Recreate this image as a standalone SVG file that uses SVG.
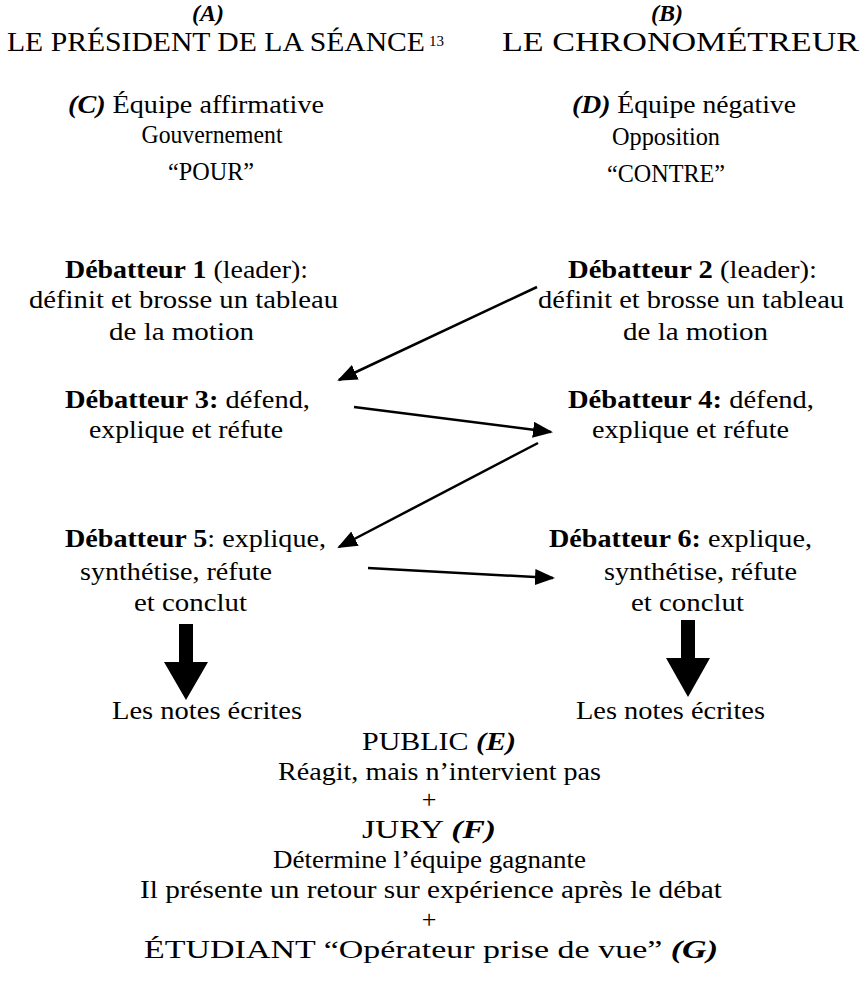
<svg xmlns="http://www.w3.org/2000/svg" width="861" height="983" viewBox="0 0 861 983">
<style>
text{font-family:"Liberation Serif","Times New Roman",serif;font-size:26px;fill:#000}
.c{text-anchor:middle}
.b{font-weight:bold}
.l{font-weight:bold;font-style:italic}
.t{font-size:28px}
.ln{stroke:#000;stroke-width:2.5;fill:none}
</style>
<defs>
<marker id="ah2" viewBox="0 0 20 16" refX="18" refY="8" markerWidth="20" markerHeight="16" markerUnits="userSpaceOnUse" orient="auto">
<path d="M0,0 L20,8 L0,16 Z" fill="#000"/>
</marker>
</defs>
<rect width="861" height="983" fill="#fff"/>
<g id="A">
<text class="c l" x="208" y="21" style="font-size:24px">(A)</text>
<text class="t" x="7" y="51" textLength="418" lengthAdjust="spacingAndGlyphs">LE PRÉSIDENT DE LA SÉANCE</text>
<text x="429" y="46" style="font-size:15px">13</text>
</g>
<g id="B">
<text class="c l" x="667" y="21" style="font-size:24px">(B)</text>
<text class="t" x="502" y="51" textLength="357" lengthAdjust="spacingAndGlyphs">LE CHRONOMÉTREUR</text>
</g>
<g id="C">
<text x="68" y="113" textLength="256" lengthAdjust="spacingAndGlyphs"><tspan class="l">(C)</tspan> Équipe affirmative</text>
<text class="c" x="212" y="143" textLength="141" lengthAdjust="spacingAndGlyphs">Gouvernement</text>
<text class="c" x="211" y="180" textLength="86" lengthAdjust="spacingAndGlyphs">“POUR”</text>
</g>
<g id="D">
<text x="572" y="113" textLength="224" lengthAdjust="spacingAndGlyphs"><tspan class="l">(D)</tspan> Équipe négative</text>
<text class="c" x="666" y="145" textLength="108" lengthAdjust="spacingAndGlyphs">Opposition</text>
<text class="c" x="666" y="182" textLength="118" lengthAdjust="spacingAndGlyphs">“CONTRE”</text>
</g>
<g id="deb1">
<text x="65" y="278" textLength="243" lengthAdjust="spacingAndGlyphs"><tspan class="b">Débatteur 1</tspan> (leader):</text>
<text x="29" y="308" textLength="309" lengthAdjust="spacingAndGlyphs">définit et brosse un tableau</text>
<text x="109" y="340" textLength="145" lengthAdjust="spacingAndGlyphs">de la motion</text>
</g>
<g id="deb2">
<text x="568" y="278" textLength="249" lengthAdjust="spacingAndGlyphs"><tspan class="b">Débatteur 2</tspan> (leader):</text>
<text x="538" y="308" textLength="306" lengthAdjust="spacingAndGlyphs">définit et brosse un tableau</text>
<text x="623" y="340" textLength="145" lengthAdjust="spacingAndGlyphs">de la motion</text>
</g>
<g id="deb3">
<text x="65" y="408" textLength="245" lengthAdjust="spacingAndGlyphs"><tspan class="b">Débatteur 3:</tspan> défend,</text>
<text x="89" y="438" textLength="194" lengthAdjust="spacingAndGlyphs">explique et réfute</text>
</g>
<g id="deb4">
<text x="568" y="408" textLength="246" lengthAdjust="spacingAndGlyphs"><tspan class="b">Débatteur 4:</tspan> défend,</text>
<text x="592" y="438" textLength="197" lengthAdjust="spacingAndGlyphs">explique et réfute</text>
</g>
<g id="deb5">
<text x="65" y="547" textLength="261" lengthAdjust="spacingAndGlyphs"><tspan class="b">Débatteur 5</tspan>: explique,</text>
<text x="80" y="580" textLength="192" lengthAdjust="spacingAndGlyphs">synthétise, réfute</text>
<text x="134" y="611" textLength="113" lengthAdjust="spacingAndGlyphs">et conclut</text>
</g>
<g id="deb6">
<text x="549" y="547" textLength="263" lengthAdjust="spacingAndGlyphs"><tspan class="b">Débatteur 6:</tspan> explique,</text>
<text x="604" y="580" textLength="193" lengthAdjust="spacingAndGlyphs">synthétise, réfute</text>
<text x="631" y="611" textLength="113" lengthAdjust="spacingAndGlyphs">et conclut</text>
</g>
<g id="notes1">
<text x="112" y="719" textLength="190" lengthAdjust="spacingAndGlyphs">Les notes écrites</text>
</g>
<g id="notes2">
<text x="576" y="719" textLength="189" lengthAdjust="spacingAndGlyphs">Les notes écrites</text>
</g>
<g id="E">
<text x="362" y="750" textLength="154" lengthAdjust="spacingAndGlyphs">PUBLIC <tspan class="l">(E)</tspan></text>
<text x="278" y="780" textLength="323" lengthAdjust="spacingAndGlyphs">Réagit, mais n’intervient pas</text>
<text class="c" x="429" y="808">+</text>
</g>
<g id="F">
<text x="362" y="838" textLength="134" lengthAdjust="spacingAndGlyphs">JURY <tspan class="l">(F)</tspan></text>
<text x="273" y="868" textLength="313" lengthAdjust="spacingAndGlyphs">Détermine l’équipe gagnante</text>
<text x="140" y="898" textLength="582" lengthAdjust="spacingAndGlyphs">Il présente un retour sur expérience après le débat</text>
<text class="c" x="429" y="928">+</text>
</g>
<g id="G">
<text x="144" y="958" textLength="574" lengthAdjust="spacingAndGlyphs">ÉTUDIANT “Opérateur prise de vue” <tspan class="l">(G)</tspan></text>
</g>
<g id="connectors">
<line class="ln" x1="537" y1="287" x2="339" y2="380" marker-end="url(#ah2)"/>
<line class="ln" x1="354" y1="407" x2="551" y2="432" marker-end="url(#ah2)"/>
<line class="ln" x1="538" y1="443" x2="339" y2="547" marker-end="url(#ah2)"/>
<line class="ln" x1="368" y1="568" x2="553" y2="578" marker-end="url(#ah2)"/>
<path d="M179,624 H193 V662 H208 L186,700 L164,662 H179 Z" fill="#000"/>
<path d="M681,620 H695 V658 H710 L688,697 L666,658 H681 Z" fill="#000"/>
</g>
</svg>
